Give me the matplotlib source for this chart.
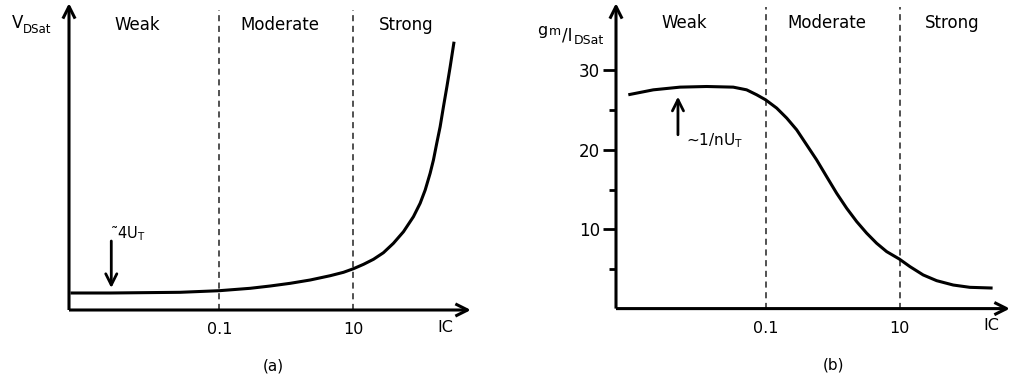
import matplotlib
matplotlib.use("Agg")
import matplotlib.pyplot as plt
from matplotlib.ticker import NullLocator, FixedLocator

# ---- data ----
# (a) V_DSat vs inversion coefficient IC (arbitrary units)
ic_a = [6.0e-4, 2.4e-3, 6.6e-3, 0.026, 0.1, 0.29, 0.577, 1.15, 2.28, 4.54, 7.17,
        10.1, 14.3, 20.1, 28.3, 39.9, 56.4, 79.4, 100, 119, 141, 158, 177, 199,
        223, 251, 281, 321]
vdsat = [17, 17, 17.3, 17.7, 19.3, 21.7, 24, 26.7, 30, 34.3, 37.7,
         41.3, 45.7, 50.7, 57.3, 66.7, 78.3, 93.3, 106.7, 120, 136.7, 150, 166.7, 183.3,
         203.3, 223.3, 243.3, 268.3]
# (b) gm/IDSat vs IC
ic_b = [9.0e-4, 2.12e-3, 5.3e-3, 0.0132, 0.0329, 0.0521, 0.0734, 0.1, 0.146, 0.206,
        0.290, 0.408, 0.574, 0.809, 1.14, 1.61, 2.27, 3.19, 4.50, 6.34, 9.77, 14.1,
        22.2, 35.2, 62.2, 110, 240]
gm_id = [26.94, 27.56, 27.90, 27.98, 27.90, 27.56, 26.94, 26.30, 25.26, 24.0,
         22.52, 20.63, 18.74, 16.63, 14.54, 12.64, 10.96, 9.51, 8.23, 7.18, 6.25, 5.29,
         4.24, 3.52, 2.97, 2.68, 2.59]

region_bounds = [0.1, 10]
xtick_labels = ["0.1", "10"]
regions = ["Weak", "Moderate", "Strong"]
yticks_b = [10, 20, 30]
yminor_b = [5, 15, 25]

W, H = 1011, 381
fig = plt.figure(figsize=(W / 100, H / 100), dpi=100)


def fr(x0, y0, x1, y1):
    return [x0 / W, 1 - y1 / H, (x1 - x0) / W, (y1 - y0) / H]


def ftext(x, y, s, **kw):
    kw.setdefault("ha", "center")
    kw.setdefault("va", "center")
    kw.setdefault("fontsize", 12)
    fig.text(x / W, 1 - y / H, s, **kw)


LW = 2.2
arrow_kw = dict(arrowstyle="->", lw=LW, color="black", mutation_scale=22,
                shrinkA=0, shrinkB=0, capstyle="butt")


def setup(ax, xlim, ylim, dash_top):
    ax.set_xscale("log")
    ax.set_xlim(*xlim)
    ax.set_ylim(*ylim)
    for s in ax.spines.values():
        s.set_visible(False)
    ax.patch.set_alpha(0)
    ax.annotate("", xy=(1, 0), xytext=(0, 0), xycoords="axes fraction",
                arrowprops=arrow_kw, annotation_clip=False)
    ax.annotate("", xy=(0, 1), xytext=(0, 0), xycoords="axes fraction",
                arrowprops=arrow_kw, annotation_clip=False)
    for b in region_bounds:
        ax.axvline(b, ymin=0, ymax=dash_top, color="#222222", lw=1.1,
                   dashes=(4, 3))
    ax.xaxis.set_major_locator(FixedLocator(region_bounds))
    ax.set_xticklabels(xtick_labels)
    ax.xaxis.set_minor_locator(NullLocator())
    ax.tick_params(axis="x", length=0, pad=9, labelsize=11.5)


# ---------- panel (a) ----------
axa = fig.add_axes(fr(69, 3, 471, 310))
setup(axa, (5.7e-4, 575), (0, 307), 300 / 307)
axa.set_yticks([])
axa.plot(ic_a, vdsat, color="black", lw=2.2, solid_capstyle="butt",
         solid_joinstyle="round")
axa.annotate("", xy=(2.44e-3, 22), xytext=(2.44e-3, 69),
             arrowprops=dict(arrowstyle="->", lw=2.0, color="black",
                             mutation_scale=20, shrinkA=0, shrinkB=0))
axa.text(2.3e-3, 72, "\u02dc4U$_\\mathregular{T}$", fontsize=10.5,
         ha="left", va="baseline")

# ---------- panel (b) ----------
axb = fig.add_axes(fr(616, 3, 1010, 308.6))
setup(axb, (5.9e-4, 436), (0, 38.5), 301.6 / 305.6)
axb.set_yticks(yticks_b)
axb.set_yticks(yminor_b, minor=True)
axb.tick_params(axis="y", which="major", direction="out", length=9.5,
                width=2, pad=2, labelsize=12)
axb.tick_params(axis="y", which="minor", direction="out", length=5, width=2)
axb.plot(ic_b, gm_id, color="black", lw=2.2, solid_capstyle="butt",
         solid_joinstyle="round")
axb.annotate("", xy=(4.94e-3, 26.7), xytext=(4.94e-3, 21.9),
             arrowprops=dict(arrowstyle="->", lw=2.0, color="black",
                             mutation_scale=20, shrinkA=0, shrinkB=0))
axb.text(6.6e-3, 20.6, "~1/nU$_\\mathregular{T}$", fontsize=11,
         ha="left", va="baseline")

# ---------- labels ----------
for x, s in zip([137, 280, 405.7], regions):
    ftext(x, 25, s)
for x, s in zip([684, 826.7, 952], regions):
    ftext(x, 23, s)

# V_DSat
ftext(12, 28, "V", ha="left", va="baseline")
ftext(23, 33, "DSat", ha="left", va="baseline", fontsize=8.5)
# gm/IDSat
ftext(537, 35, "g", ha="left", va="baseline", fontsize=11.5)
ftext(549, 35, "m", ha="left", va="baseline", fontsize=9)
ftext(562, 40, "/I", ha="left", va="baseline", fontsize=12)
ftext(574, 44, "DSat", ha="left", va="baseline", fontsize=9)

ftext(445, 327, "IC", fontsize=11.5)
ftext(991.7, 325, "IC", fontsize=11.5)
ftext(273, 366, "(a)", fontsize=11)
ftext(833, 365, "(b)", fontsize=11)

fig.savefig("out.png", dpi=100)
